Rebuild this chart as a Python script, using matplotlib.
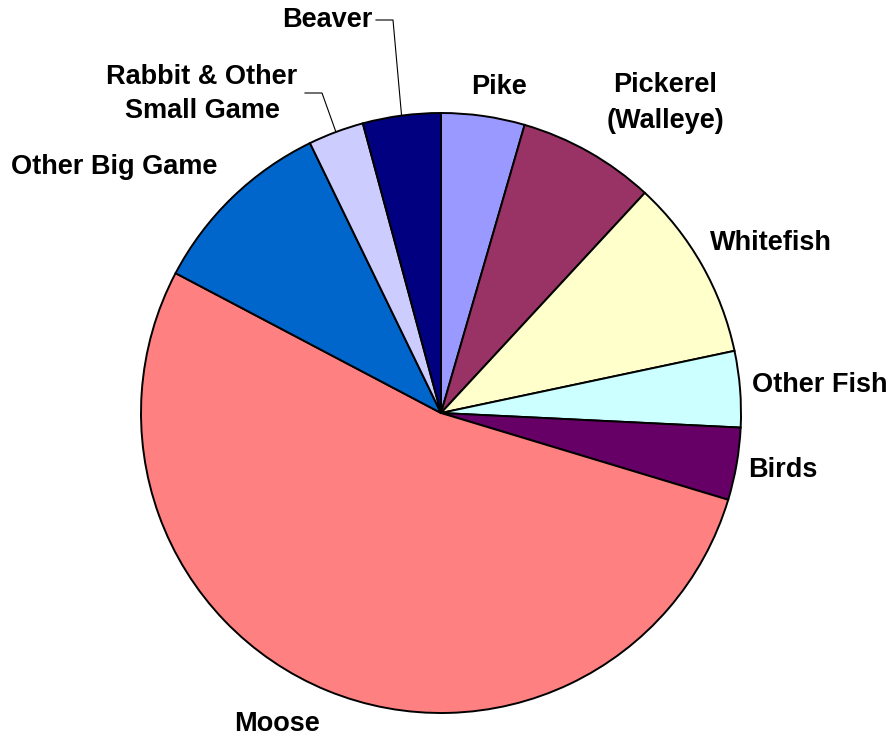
# Food harvest pie chart
import numpy as np
import matplotlib.pyplot as plt

plt.rcParams['font.family'] = ['Liberation Sans', 'DejaVu Sans']

# Data (percent shares, clockwise from 12 o'clock)
categories = ['Pike', 'Pickerel\n(Walleye)', 'Whitefish', 'Other Fish', 'Birds',
              'Moose', 'Other Big Game', 'Rabbit & Other\nSmall Game', 'Beaver']
shares = [4.5, 7.4, 9.8, 4.1, 3.9, 53.1, 10.1, 3.0, 4.2]
colors = ['#9999FF', '#993366', '#FFFFCC', '#CCFFFF', '#660066',
          '#FF8080', '#0066CC', '#CCCCFF', '#000080']

W, H = 894, 740
fig = plt.figure(figsize=(W / 100, H / 100), dpi=100)
ax = fig.add_axes([0, 0, 1, 1])

cx, cy, r = 441, H - 413, 300
wedges, _ = ax.pie(shares, colors=colors, startangle=90, counterclock=False,
                   center=(cx, cy), radius=r, frame=True,
                   wedgeprops=dict(edgecolor='black', linewidth=1.4))
ax.set_xlim(0, W)
ax.set_ylim(0, H)
ax.set_aspect('equal')
ax.axis('off')

# label positions in pixel space (x, y from top), alignment
label_pos = [(499, 87, 'center'), (665, 103, 'center'), (771, 243, 'center'),
             (752, 385, 'left'), (748, 470, 'left'), (277, 724, 'center'),
             (11, 167, 'left'), (202, 94, 'center'), (372, 20, 'right')]

for name, (x, y, ha) in zip(categories, label_pos):
    ax.text(x, H - y, name, ha=ha, va='center', fontsize=19.5, fontweight='bold',
            linespacing=1.45)

# leader lines for the two small slices
def leader(w, x0, y0, x1):
    ang = np.deg2rad((w.theta1 + w.theta2) / 2)
    px, py = cx + r * np.cos(ang), cy + r * np.sin(ang)
    ax.plot([x0, x1, px], [H - y0, H - y0, py], color='black', lw=0.8)

leader(wedges[8], 376, 20, 393)
leader(wedges[7], 305, 93, 322)

fig.savefig('out.png', dpi=100)
